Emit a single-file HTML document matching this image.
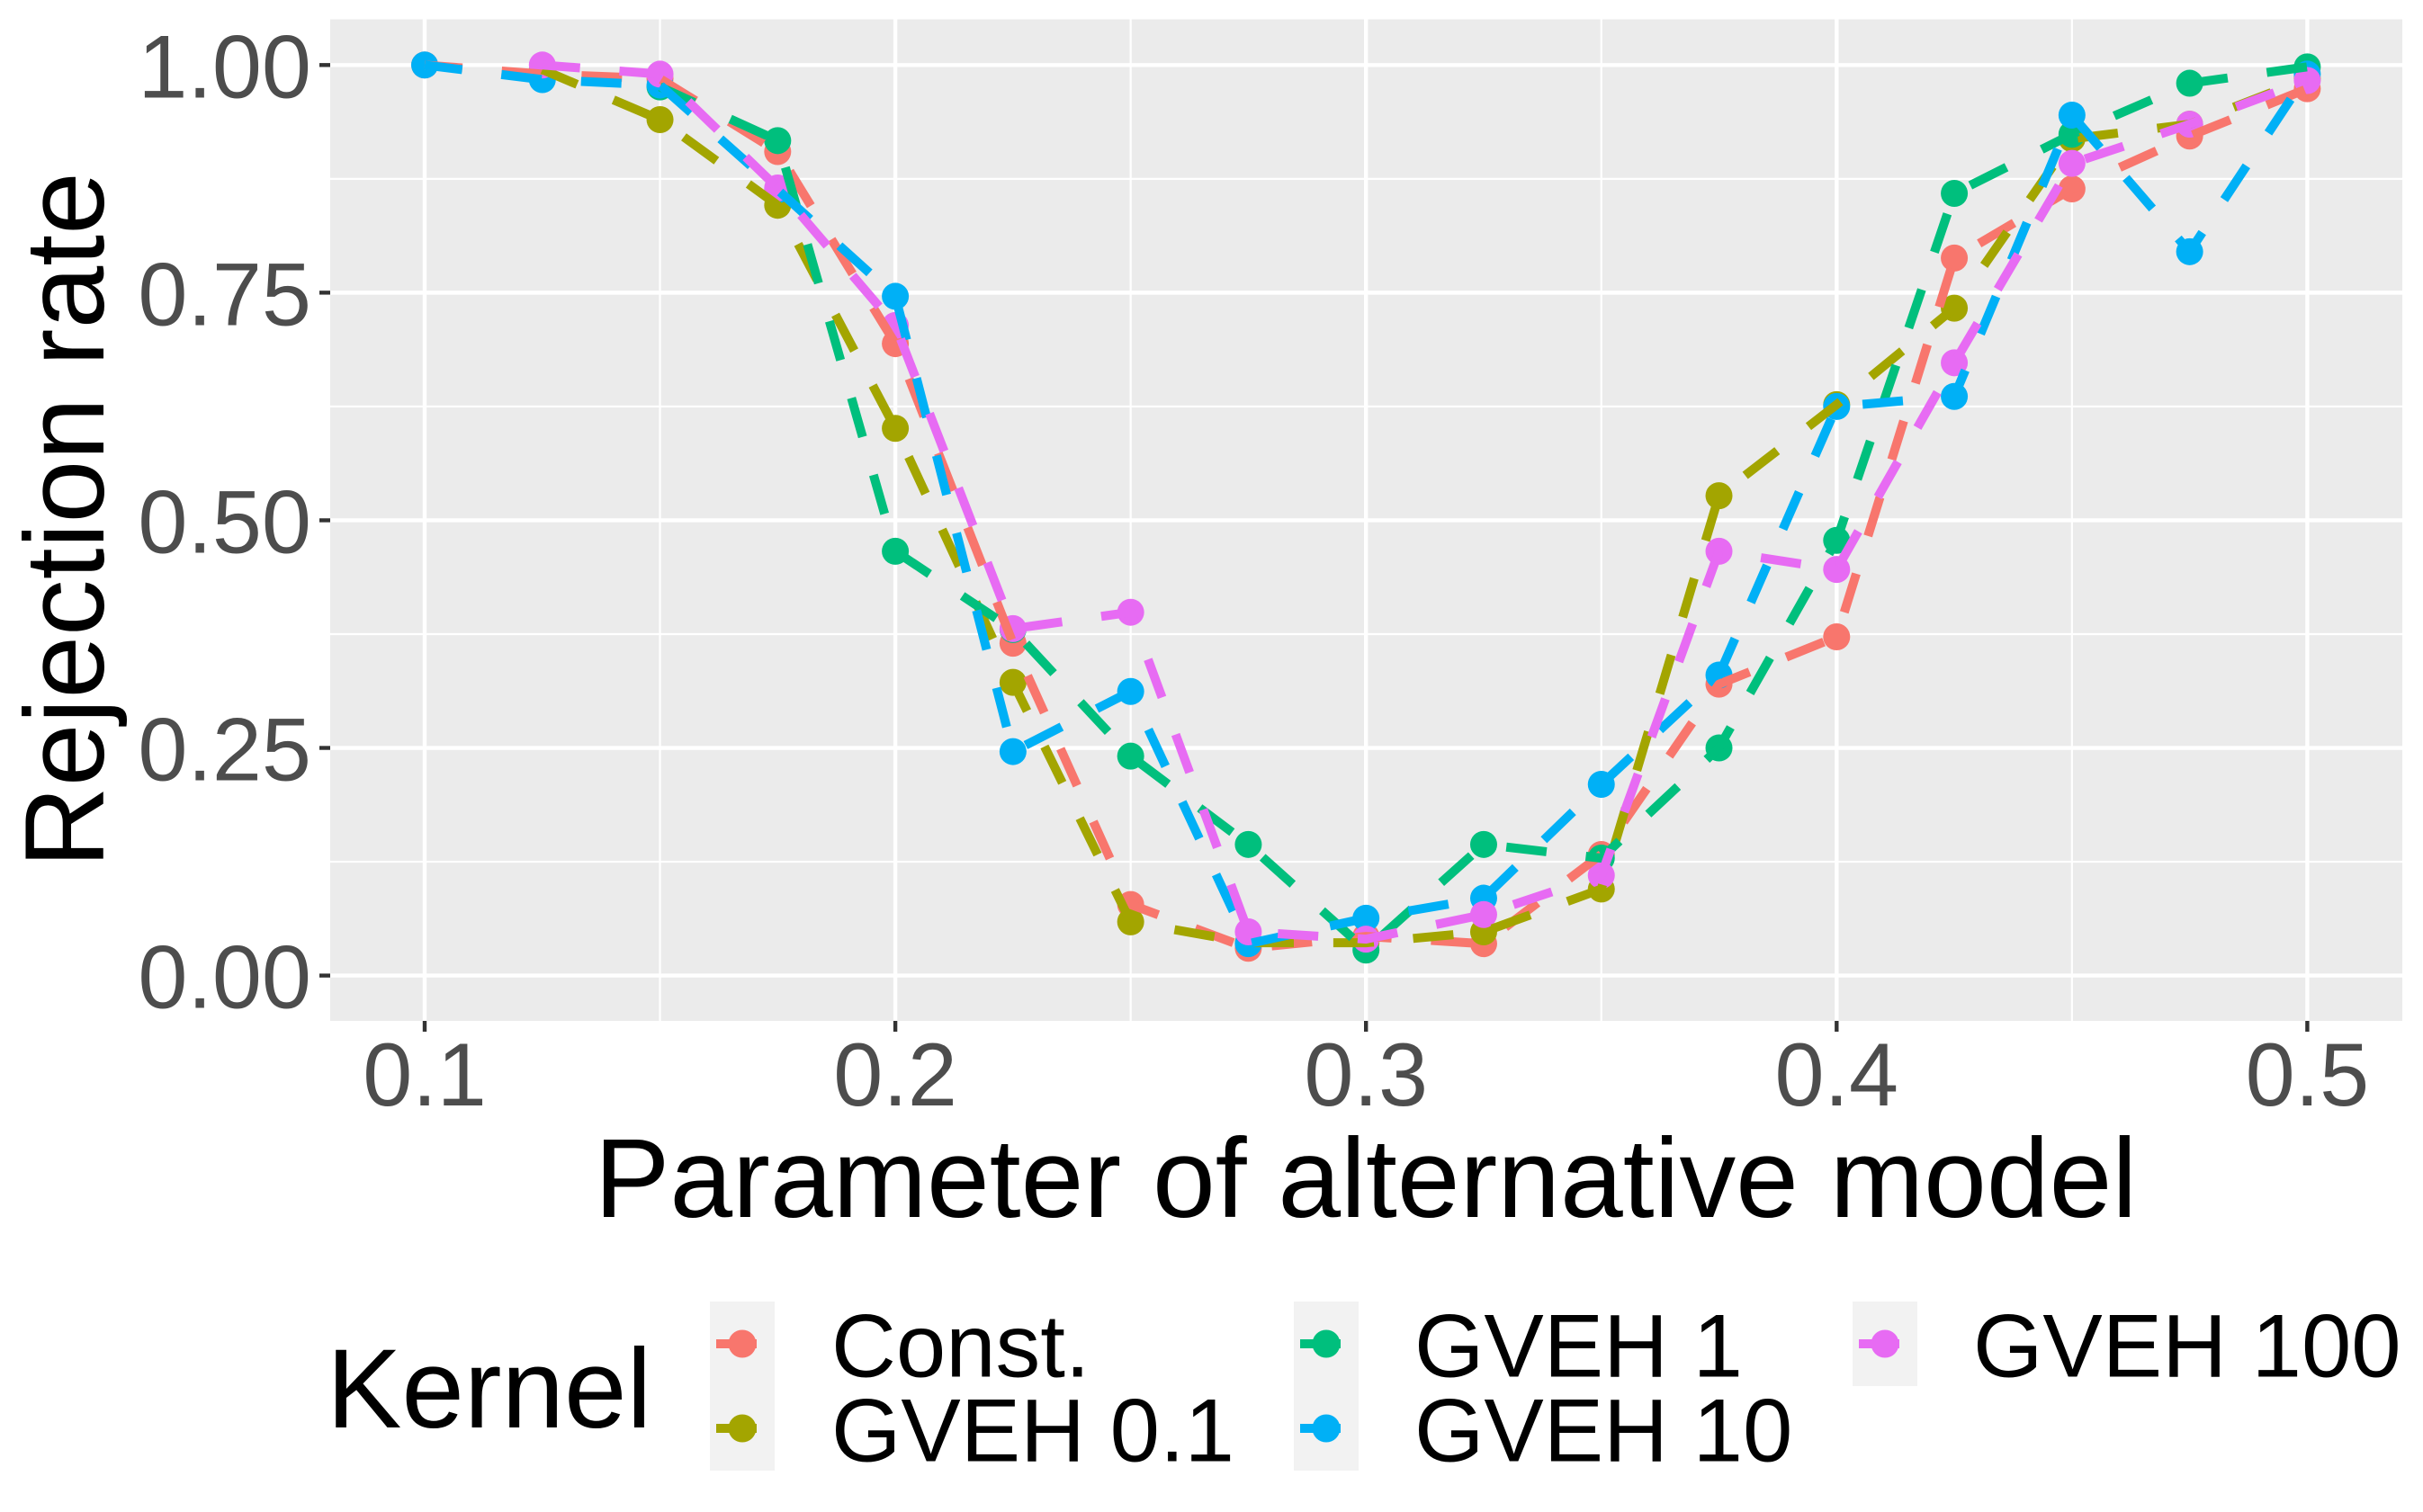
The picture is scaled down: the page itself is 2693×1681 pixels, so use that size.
<!DOCTYPE html>
<html lang="en">
<head>
<meta charset="utf-8">
<title>Rejection rate chart</title>
<style>
html,body{margin:0;padding:0;background:#fff;}
svg{display:block;}
text{font-family:"Liberation Sans",Arial,sans-serif;}
</style>
</head>
<body>
<svg id="chart" xmlns="http://www.w3.org/2000/svg" width="2693" height="1681" viewBox="0 0 2693 1681">
  <rect x="0" y="0" width="2693" height="1681" fill="#ffffff"/>
  <rect x="367" y="21.5" width="2303" height="1113.5" fill="#EBEBEB"/>
  <g id="grid"></g>
  <g id="ticks"></g>
  <g id="points"></g>
  <g id="lines"></g>
  <text x="1518" y="1353" font-size="125.4" text-anchor="middle" fill="#000">Parameter of alternative model</text>
  <text transform="translate(115,578) rotate(-90)" font-size="125.4" text-anchor="middle" fill="#000">Rejection rate</text>
  <text x="363" y="1587" font-size="125" fill="#000">Kernel</text>
  <g id="legend"></g>
</svg>
<script>
const xValues = [0.1, 0.125, 0.15, 0.175, 0.2, 0.225, 0.25, 0.275, 0.3, 0.325, 0.35, 0.375, 0.4, 0.425, 0.45, 0.475, 0.5];
const constValues = [1, 0.99, 0.985, 0.905, 0.694, 0.365, 0.078, 0.03, 0.043, 0.035, 0.133, 0.32, 0.372, 0.788, 0.864, 0.922, 0.974];
const gveh01Values = [null, 0.995, 0.94, 0.846, 0.601, 0.322, 0.059, 0.036, 0.036, 0.048, 0.095, 0.527, 0.627, 0.733, 0.919, 0.935, 0.985];
const gveh1Values = [null, null, 0.976, 0.917, 0.466, 0.38, 0.241, 0.144, 0.028, 0.144, 0.129, 0.25, 0.478, 0.859, 0.924, 0.98, 0.998];
const gveh10Values = [1, 0.984, 0.978, 0.863, 0.746, 0.246, 0.312, 0.035, 0.063, 0.085, 0.21, 0.33, 0.625, 0.636, 0.945, 0.795, 0.99];
const gveh100Values = [null, 1, 0.99, 0.865, 0.714, 0.381, 0.399, 0.048, 0.04, 0.067, 0.11, 0.466, 0.446, 0.673, 0.892, 0.935, 0.983];
const xMajorTicks = [0.1, 0.2, 0.3, 0.4, 0.5];
const xMinorTicks = [0.15, 0.25, 0.35, 0.45];
const yMajorTicks = [0, 0.25, 0.5, 0.75, 1];
const yMinorTicks = [0.125, 0.375, 0.625, 0.875];
const xTickLabels = ["0.1", "0.2", "0.3", "0.4", "0.5"];
const yTickLabels = ["0.00", "0.25", "0.50", "0.75", "1.00"];
const seriesNames = ["Const.", "GVEH 0.1", "GVEH 1", "GVEH 10", "GVEH 100"];
const seriesColors = ["#F8766D", "#A3A500", "#00BF7D", "#00B0F6", "#E76BF3"];
const seriesValues = [constValues, gveh01Values, gveh1Values, gveh10Values, gveh100Values];

const NS = "http://www.w3.org/2000/svg";
const panel = {left: 367, right: 2670, top: 21.5, bottom: 1135};
function xScale(v) { return 472 + (v - 0.1) * 5231; }
function yScale(v) { return 1084.6 - v * 1012.3; }
function slug(s) { return s.toLowerCase().replace(/[^a-z0-9]+/g, "-").replace(/-$/, ""); }
function make(tag, parent, attrs, content) {
  const el = document.createElementNS(NS, tag);
  for (const k in attrs) el.setAttribute(k, attrs[k]);
  if (content !== undefined) el.textContent = content;
  parent.appendChild(el);
  return el;
}
const grid = document.getElementById("grid");
const ticks = document.getElementById("ticks");
const pointsG = document.getElementById("points");
const linesG = document.getElementById("lines");
const legend = document.getElementById("legend");

yMinorTicks.forEach(function (v) {
  const el = make("line", grid, {x1: panel.left, x2: panel.right, y1: yScale(v), y2: yScale(v), stroke: "#fff", "stroke-width": 2.2});
  
  
});
xMinorTicks.forEach(function (v) {
  const el = make("line", grid, {x1: xScale(v), x2: xScale(v), y1: panel.top, y2: panel.bottom, stroke: "#fff", "stroke-width": 2.2});
  
  
});
yMajorTicks.forEach(function (v, i) {
  const y = yScale(v);
  const g = make("line", grid, {x1: panel.left, x2: panel.right, y1: y, y2: y, stroke: "#fff", "stroke-width": 4.4});
  
  
  const t = make("line", ticks, {x1: 355, x2: panel.left, y1: y, y2: y, stroke: "#333333", "stroke-width": 4.4});
  
  
  const l = make("text", ticks, {x: 346, y: y + 36, "font-size": 99, "text-anchor": "end", fill: "#4D4D4D"}, yTickLabels[i]);
  
  
});
xMajorTicks.forEach(function (v, i) {
  const x = xScale(v);
  const g = make("line", grid, {x1: x, x2: x, y1: panel.top, y2: panel.bottom, stroke: "#fff", "stroke-width": 4.4});
  
  
  const t = make("line", ticks, {x1: x, x2: x, y1: panel.bottom, y2: panel.bottom + 12, stroke: "#333333", "stroke-width": 4.4});
  
  
  const l = make("text", ticks, {x: x, y: 1229, "font-size": 99, "text-anchor": "middle", fill: "#4D4D4D"}, xTickLabels[i]);
  
  
});

seriesValues.forEach(function (values, s) {
  values.forEach(function (v, i) {
    if (v === null) return;
    const c = make("circle", pointsG, {cx: xScale(xValues[i]), cy: yScale(v), r: 15, fill: seriesColors[s]});
    
    
  });
});
seriesValues.forEach(function (values, s) {
  const coords = [];
  values.forEach(function (v, i) {
    if (v !== null) coords.push(xScale(xValues[i]) + "," + yScale(v));
  });
  const p = make("polyline", linesG, {points: coords.join(" "), fill: "none", stroke: seriesColors[s], "stroke-width": 10, "stroke-dasharray": "45 43.9", "stroke-dashoffset": 3, "stroke-linecap": "butt", "stroke-linejoin": "round"});
  
  
});

const legendKeyX = [789, 789, 1438, 1438, 2059];
const legendKeyY = [1447, 1541, 1447, 1541, 1447];
const legendTextX = [924, 924, 1572, 1572, 2193];
seriesNames.forEach(function (name, s) {
  const key = make("rect", legend, {x: legendKeyX[s], y: legendKeyY[s], width: 72, height: 94, fill: "#F2F2F2"});
  
  
  const cy = legendKeyY[s] + 47;
  const cx = legendKeyX[s] + 36;
  const dot = make("circle", legend, {cx: cx, cy: cy, r: 15.5, fill: seriesColors[s]});
  
  
  const dash = make("line", legend, {x1: legendKeyX[s] + 7, x2: cx + 16, y1: cy, y2: cy, stroke: seriesColors[s], "stroke-width": 10});
  
  
  const label = make("text", legend, {x: legendTextX[s], y: legendKeyY[s] + 83.5, "font-size": 99.5, fill: "#000"}, name);
  
  
});
</script>
</body>
</html>
